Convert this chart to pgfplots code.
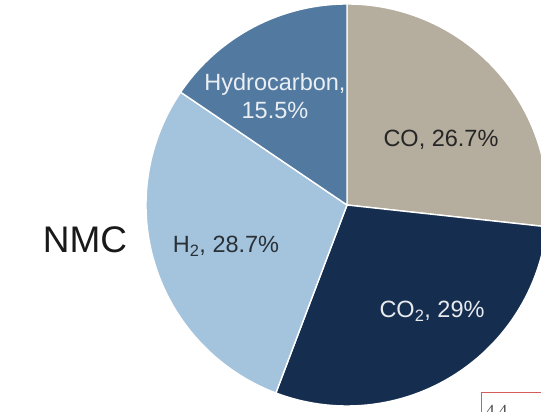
\documentclass[border=0pt]{standalone}
\usepackage{pgfplots}
\pgfplotsset{compat=1.18}
\usepackage{fontspec}
\setmainfont{Liberation Sans}
\newfontfamily\seriffont{Liberation Serif}
\definecolor{cCO}{RGB}{181,173,157}
\definecolor{cCOtwo}{RGB}{21,46,80}
\definecolor{cHtwo}{RGB}{164,196,221}
\definecolor{cHC}{RGB}{82,121,160}
\definecolor{boxred}{RGB}{214,92,92}
% slice values (percent), clockwise from 12 o'clock
\def\vCO{26.7}
\def\vCOtwo{29}
\def\vHtwo{28.7}
\def\vHC{15.5}
\pgfmathsetmacro{\tot}{\vCO+\vCOtwo+\vHtwo+\vHC}
\pgfmathsetmacro{\aA}{90}
\pgfmathsetmacro{\aB}{\aA-360*\vCO/\tot}
\pgfmathsetmacro{\aC}{\aB-360*\vCOtwo/\tot}
\pgfmathsetmacro{\aD}{\aC-360*\vHtwo/\tot}
\pgfmathsetmacro{\aE}{\aD-360*\vHC/\tot}
\def\cx{347}
\def\cy{207}
\def\R{201}
\begin{document}
\begin{tikzpicture}
\path[use as bounding box, clip] (0,0) rectangle (541bp,412bp);
\begin{axis}[
  at={(0,0)}, anchor=south west,
  x=1bp, y=1bp, xmin=0, xmax=541, ymin=0, ymax=412,
  scale only axis, hide axis, clip=false,
]
\filldraw[fill=cCO, draw=white, line width=1.4bp] (axis cs:\cx,\cy) -- ++(\aA:\R bp) arc[start angle=\aA, end angle=\aB, radius=\R bp] -- cycle;
\filldraw[fill=cCOtwo, draw=white, line width=1.4bp] (axis cs:\cx,\cy) -- ++(\aB:\R bp) arc[start angle=\aB, end angle=\aC, radius=\R bp] -- cycle;
\filldraw[fill=cHtwo, draw=white, line width=1.4bp] (axis cs:\cx,\cy) -- ++(\aC:\R bp) arc[start angle=\aC, end angle=\aD, radius=\R bp] -- cycle;
\filldraw[fill=cHC, draw=white, line width=1.4bp] (axis cs:\cx,\cy) -- ++(\aD:\R bp) arc[start angle=\aD, end angle=\aE, radius=\R bp] -- cycle;
\node[font=\fontsize{23.5bp}{28bp}\selectfont, text=black!85, align=center] at (axis cs:441,272) {CO, \vCO\%};
\node[font=\fontsize{23.5bp}{28bp}\selectfont, text=white!90!cCOtwo, align=center] at (axis cs:432,101) {CO\textsubscript{2}, \vCOtwo\%};
\node[font=\fontsize{23.5bp}{28bp}\selectfont, text=black!75!cHtwo, align=center] at (axis cs:226,166) {H\textsubscript{2}, \vHtwo\%};
\node[font=\fontsize{23.5bp}{28bp}\selectfont, text=white!88!cHC, align=center] at (axis cs:275,316) {Hydrocarbon,\\\vHC\%};
\node[font=\fontsize{37bp}{40bp}\selectfont, text=black!90] at (axis cs:85,172) {NMC};
\draw[boxred, line width=0.8bp] (axis cs:481.5,-30) rectangle (axis cs:600,20);
\node[font=\seriffont\fontsize{17bp}{20bp}\selectfont, text=black!70, anchor=base west, inner sep=0pt] at (axis cs:486,-4) {4.4};
\end{axis}
\end{tikzpicture}
\end{document}
